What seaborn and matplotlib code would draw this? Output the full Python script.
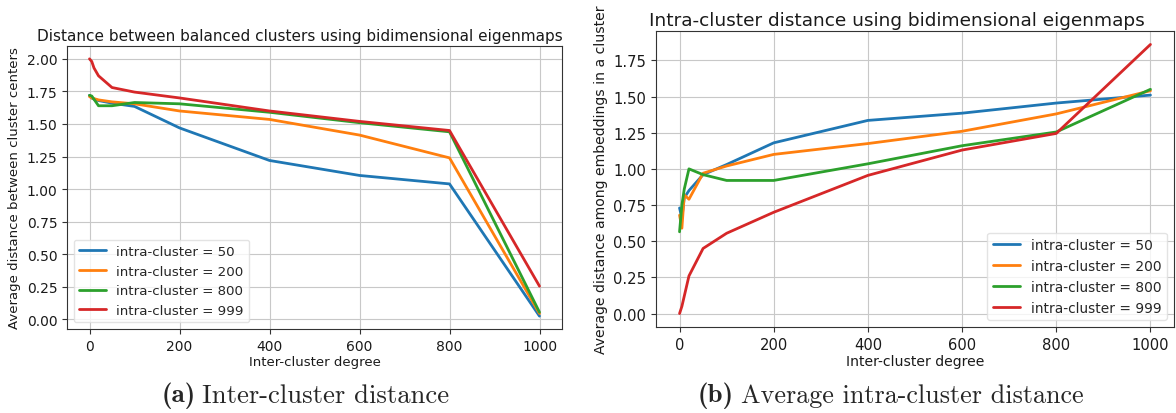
"""
Balanced clusters with bidimensional eigenmaps - inter / intra cluster distances
"""

import numpy as np
import pandas as pd
import matplotlib
matplotlib.use("Agg")
import matplotlib.pyplot as plt
import seaborn as sns

# ========== DATA ==========
inter_degree = [0, 5, 10, 20, 50, 100, 200, 400, 600, 800, 1000]
intra_labels = ["intra-cluster = 50", "intra-cluster = 200",
                "intra-cluster = 800", "intra-cluster = 999"]

# (a) distance between cluster centers
inter_50 = [1.72, 1.70, 1.69, 1.68, 1.66, 1.635, 1.47, 1.22, 1.105, 1.04, 0.025]
inter_200 = [1.71, 1.70, 1.695, 1.685, 1.67, 1.655, 1.60, 1.535, 1.415, 1.24, 0.045]
inter_800 = [1.72, 1.715, 1.69, 1.64, 1.64, 1.665, 1.655, 1.59, 1.51, 1.44, 0.055]
inter_999 = [2.00, 1.98, 1.93, 1.87, 1.78, 1.745, 1.70, 1.60, 1.52, 1.45, 0.255]

# (b) average distance among embeddings in a cluster
intra_50 = [0.73, 0.66, 0.80, 0.85, 0.96, 1.03, 1.18, 1.335, 1.385, 1.455, 1.51]
intra_200 = [0.68, 0.59, 0.82, 0.79, 0.97, 1.02, 1.10, 1.175, 1.26, 1.38, 1.54]
intra_800 = [0.565, 0.75, 0.86, 1.00, 0.96, 0.92, 0.92, 1.035, 1.16, 1.255, 1.55]
intra_999 = [0.0, 0.05, 0.12, 0.26, 0.45, 0.555, 0.70, 0.955, 1.13, 1.245, 1.86]


def to_long(series):
    rows = []
    for label, values in zip(intra_labels, series):
        for x, y in zip(inter_degree, values):
            rows.append({"degree": x, "value": y, "intra": label})
    return pd.DataFrame(rows)


df_inter = to_long([inter_50, inter_200, inter_800, inter_999])
df_intra = to_long([intra_50, intra_200, intra_800, intra_999])

# ========== STYLE ==========
sns.set_style("ticks", rc={
    "axes.grid": True,
    "grid.color": "#c8c8c8",
    "grid.linewidth": 0.8,
    "axes.edgecolor": "#333333",
    "axes.linewidth": 1.0,
    "xtick.color": "#333333",
    "ytick.color": "#333333",
})
plt.rcParams["font.family"] = ["DejaVu Sans"]

palette = sns.color_palette("tab10", 4)

fig = plt.figure(figsize=(11.76, 4.14), dpi=100)
ax1 = fig.add_axes([67 / 1176, 1 - 330 / 414, 495 / 1176, 283 / 414])
ax2 = fig.add_axes([656 / 1176, 1 - 328 / 414, 518 / 1176, 296 / 414])

# per-panel text sizes (the right panel was scaled a bit larger in the source)
panels = [
    (ax1, df_inter, "Distance between balanced clusters using bidimensional eigenmaps",
     "Average distance between cluster centers", "lower left",
     dict(title=11, label=9.5, tick=10, legend=9.6, title_x=0.47, yticks=np.arange(0, 2.01, 0.25))),
    (ax2, df_intra, "Intra-cluster distance using bidimensional eigenmaps",
     "Average distance among embeddings in a cluster", "lower right",
     dict(title=13.3, label=10.1, tick=10.6, legend=9.9, title_x=0.465, yticks=np.arange(0, 1.76, 0.25))),
]

for ax, df, title, ylabel, loc, sz in panels:
    sns.lineplot(data=df, x="degree", y="value", hue="intra", hue_order=intra_labels,
                 palette=palette, linewidth=2.0, ax=ax)
    ax.set_title(title, fontsize=sz["title"], pad=4, color="#1a1a1a", x=sz["title_x"])
    ax.set_xlabel("Inter-cluster degree", fontsize=sz["label"], labelpad=2, color="#1a1a1a")
    ax.set_ylabel(ylabel, fontsize=sz["label"], labelpad=4, color="#1a1a1a")
    ax.set_xticks([0, 200, 400, 600, 800, 1000])
    ax.set_yticks(sz["yticks"])
    ax.tick_params(labelsize=sz["tick"], labelcolor="#1a1a1a")
    ax.yaxis.set_major_formatter(matplotlib.ticker.FormatStrFormatter("%.2f"))
    leg = ax.legend(loc=loc, fontsize=sz["legend"], frameon=True, handlelength=2.0)
    leg.get_frame().set_edgecolor("#dddddd")

# ========== CAPTIONS ==========
cap_y = 1 - 396 / 414
fig.text(196 / 1176, cap_y, "(a)", family="cmb10", fontsize=19.5, ha="right", va="center")
fig.text(202 / 1176, cap_y, "Inter-cluster distance", family="cmr10", fontsize=19.2,
         ha="left", va="center")
fig.text(734 / 1176, cap_y, "(b)", family="cmb10", fontsize=19.5, ha="right", va="center")
fig.text(741 / 1176, cap_y, "Average intra-cluster distance", family="cmr10", fontsize=18.8,
         ha="left", va="center")

fig.savefig("out.png", dpi=100)
